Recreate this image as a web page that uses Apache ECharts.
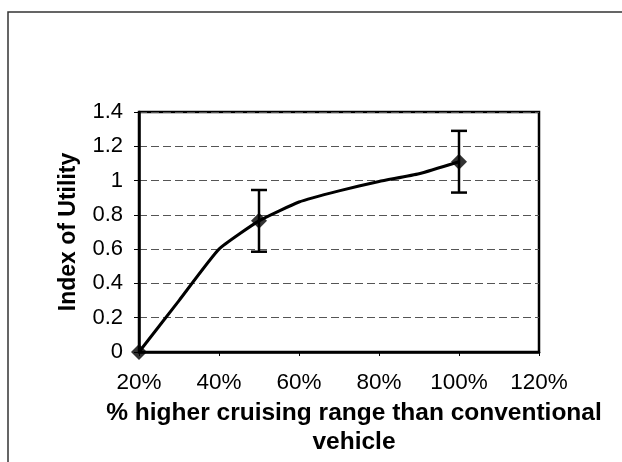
<!DOCTYPE html>
<html>
<head>
<meta charset="utf-8">
<script src="https://cdn.jsdelivr.net/npm/echarts@6/dist/echarts.min.js"></script>
<style>
  html, body { margin: 0; padding: 0; background: #fff; }
  #chart { width: 622px; height: 462px; }
</style>
</head>
<body>
<div id="chart"></div>
<script>
// Utility curve vs. extra cruising range
const curveX = [20, 30, 40, 50, 60, 70, 80, 90, 100];
const curveY = [0, 0.3, 0.6, 0.765, 0.875, 0.94, 0.995, 1.04, 1.11];

// Measured points with their error margins
const pointX = [20, 50, 100];
const pointY = [0, 0.765, 1.11];
const pointErr = [0, 0.18, 0.18];

const xTicks = { min: 20, max: 120, step: 20 };
const yTicks = { min: 0, max: 1.4, step: 0.2 };

const FONT = '"Liberation Sans", Arial, sans-serif';

const chart = echarts.init(document.getElementById('chart'), null, { renderer: 'canvas' });

const curveData = curveX.map((x, i) => [x, curveY[i]]);
const pointData = pointX.map((x, i) => [x, pointY[i]]);
const errData = pointX.map((x, i) => [x, pointY[i], pointErr[i]]).filter(d => d[2] > 0);

chart.setOption({
  animation: false,
  backgroundColor: '#fff',
  graphic: [{
    type: 'rect',
    shape: { x: 8, y: 12, width: 700, height: 600 },
    style: { fill: 'none', stroke: '#333', lineWidth: 1.5 },
    silent: true
  }],
  grid: { left: 139, right: 83, top: 112, bottom: 110, show: true, borderColor: '#000', borderWidth: 2.5, backgroundColor: 'transparent' },
  xAxis: {
    type: 'value',
    min: xTicks.min, max: xTicks.max, interval: xTicks.step,
    name: '% higher cruising range than conventional\nvehicle',
    nameLocation: 'middle',
    nameGap: 44,
    nameTextStyle: { fontFamily: FONT, fontWeight: 'bold', fontSize: 24.5, color: '#000', lineHeight: 29, padding: [0, 0, 0, 30] },
    axisLine: { show: true, lineStyle: { color: '#000', width: 2.5 } },
    axisTick: { show: true, inside: false, length: 4, lineStyle: { color: '#000', width: 1 } },
    axisLabel: { formatter: '{value}%', fontFamily: FONT, fontSize: 22.5, color: '#000', margin: 19 },
    splitLine: { show: false }
  },
  yAxis: {
    type: 'value',
    min: yTicks.min, max: yTicks.max, interval: yTicks.step,
    name: 'Index of Utility',
    nameLocation: 'middle',
    nameGap: 59,
    nameTextStyle: { fontFamily: FONT, fontWeight: 'bold', fontSize: 23, color: '#000' },
    axisLine: { show: true, lineStyle: { color: '#000', width: 2.5 } },
    axisTick: { show: true, inside: false, length: 5, lineStyle: { color: '#000', width: 1 } },
    axisLabel: { fontFamily: FONT, fontSize: 22, color: '#000', margin: 16 },
    splitLine: { show: true, lineStyle: { color: '#555', width: 1, type: [8, 4] } }
  },
  series: [
    {
      type: 'line',
      data: curveData,
      showSymbol: false,
      smooth: 0.15,
      lineStyle: { color: '#000', width: 3 },
      z: 3
    },
    {
      type: 'custom',
      data: errData,
      renderItem: function (params, api) {
        const x = api.value(0), y = api.value(1), e = api.value(2);
        const top = api.coord([x, y + e]);
        const bot = api.coord([x, y - e]);
        const cap = 8;
        const style = { stroke: '#000', lineWidth: 2.5 };
        return {
          type: 'group',
          children: [
            { type: 'line', shape: { x1: top[0], y1: top[1], x2: bot[0], y2: bot[1] }, style: style },
            { type: 'line', shape: { x1: top[0] - cap, y1: top[1], x2: top[0] + cap, y2: top[1] }, style: style },
            { type: 'line', shape: { x1: bot[0] - cap, y1: bot[1], x2: bot[0] + cap, y2: bot[1] }, style: style }
          ]
        };
      },
      z: 4
    },
    {
      type: 'scatter',
      data: pointData,
      symbol: 'diamond',
      symbolSize: 16,
      itemStyle: { color: '#000' },
      z: 5
    }
  ]
});
</script>
</body>
</html>
